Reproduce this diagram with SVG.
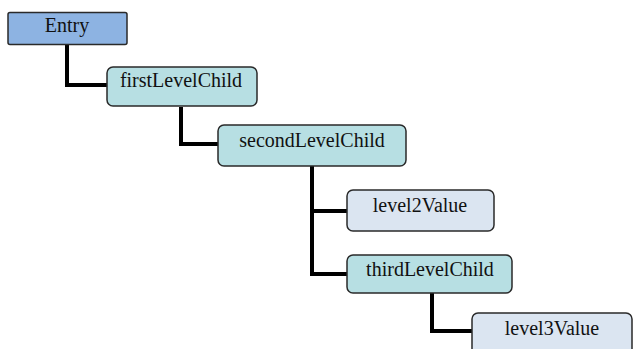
<svg xmlns="http://www.w3.org/2000/svg" width="634" height="349" viewBox="0 0 634 349">
<style>
.box{stroke:#2a2a2a;stroke-width:1.5}
.root{fill:#8db3e2}
.mid{fill:#b7dfe3}
.leaf{fill:#dbe5f1}
.lbl{font-family:"Liberation Serif","Times New Roman",serif;font-size:20px;fill:#111;text-anchor:middle}
.conn{fill:none;stroke:#000;stroke-width:4;stroke-linejoin:miter}
</style>
<rect width="634" height="349" fill="#fff"/>
<g id="connectors">
<path class="conn" d="M67,45 V85 H107"/>
<path class="conn" d="M181,107 V144 H218"/>
<path class="conn" d="M312,166 V274 H347 M312,211 H347"/>
<path class="conn" d="M432,293 V331 H472"/>
</g>
<g id="entry">
<rect class="box root" x="8" y="12.5" width="119" height="32" rx="2"/>
<text class="lbl" x="67" y="32">Entry</text>
</g>
<g id="firstLevelChild">
<rect class="box mid" x="107" y="67" width="150" height="39" rx="6"/>
<text class="lbl" x="181" y="87">firstLevelChild</text>
</g>
<g id="secondLevelChild">
<rect class="box mid" x="218" y="125" width="188" height="41" rx="6"/>
<text class="lbl" x="312" y="147">secondLevelChild</text>
</g>
<g id="level2Value">
<rect class="box leaf" x="347" y="190" width="147" height="41" rx="6"/>
<text class="lbl" x="420" y="212">level2Value</text>
</g>
<g id="thirdLevelChild">
<rect class="box mid" x="347" y="255" width="165" height="38" rx="6"/>
<text class="lbl" x="430" y="276">thirdLevelChild</text>
</g>
<g id="level3Value">
<rect class="box leaf" x="472" y="313" width="160" height="45" rx="6"/>
<text class="lbl" x="552" y="335">level3Value</text>
</g>
</svg>
